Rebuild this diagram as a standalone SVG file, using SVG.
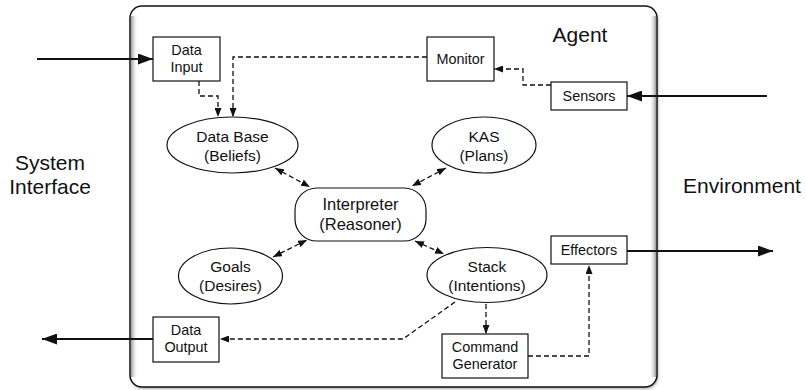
<svg xmlns="http://www.w3.org/2000/svg" width="806" height="390" viewBox="0 0 806 390">
<style>
  text { font-family: "Liberation Sans", Arial, Helvetica, sans-serif; fill: #111; text-anchor: middle; }
  .box { fill: #fff; stroke: #111; stroke-width: 1.2; }
  .node { fill: #fff; stroke: #111; stroke-width: 1.2; }
  .bt { font-size: 14.4px; }
  .et { font-size: 15.5px; }
  .it { font-size: 16.5px; }
  .big { font-size: 21px; }
  .solid { fill: none; stroke: #111; stroke-width: 2; }
  .dash { fill: none; stroke: #111; stroke-width: 1.3; stroke-dasharray: 5 3; }
</style>
<defs>
  <marker id="ah" viewBox="0 0 15 11" refX="15" refY="5.5" markerWidth="15" markerHeight="11" markerUnits="userSpaceOnUse" orient="auto">
    <path d="M0,0 L15,5.5 L0,11 z" fill="#111" stroke="none"/>
  </marker>
  <marker id="dh" viewBox="0 0 9 7" refX="9" refY="3.5" markerWidth="9" markerHeight="7" markerUnits="userSpaceOnUse" orient="auto">
    <path d="M0,0 L9,3.5 L0,7 z" fill="#111" stroke="none"/>
  </marker>
  <marker id="dt" viewBox="0 0 9 7" refX="0" refY="3.5" markerWidth="9" markerHeight="7" markerUnits="userSpaceOnUse" orient="auto">
    <path d="M9,0 L0,3.5 L9,7 z" fill="#111" stroke="none"/>
  </marker>
  <linearGradient id="gl" x1="0" y1="0" x2="1" y2="0">
    <stop offset="0" stop-color="#9a9a9a"/>
    <stop offset="1" stop-color="#ffffff" stop-opacity="0"/>
  </linearGradient>
  <linearGradient id="gr" x1="1" y1="0" x2="0" y2="0">
    <stop offset="0" stop-color="#9a9a9a"/>
    <stop offset="1" stop-color="#ffffff" stop-opacity="0"/>
  </linearGradient>
  <filter id="sh" x="-5%" y="-5%" width="110%" height="110%">
    <feGaussianBlur stdDeviation="1.5"/>
  </filter>
</defs>

<g id="agent">
  <rect x="131" y="8" width="527" height="381" rx="12" fill="#aaa" filter="url(#sh)"/>
  <rect x="130" y="6" width="527" height="381" rx="12" fill="#fff"/>
  <rect x="131" y="16" width="7" height="361" fill="url(#gl)"/>
  <rect x="649" y="16" width="7" height="361" fill="url(#gr)"/>
  <rect x="130" y="6" width="527" height="381" rx="12" fill="none" stroke="#111" stroke-width="1.5"/>
  <text class="big" x="580" y="42">Agent</text>
</g>

<g id="system-interface">
  <text class="big" x="50" y="170">System</text>
  <text class="big" x="50" y="194">Interface</text>
</g>
<g id="environment">
  <text class="big" x="742" y="193">Environment</text>
</g>

<g id="connectors">
  <path class="solid" d="M37,59 H153" marker-end="url(#ah)"/>
  <path class="solid" d="M767,96 H627" marker-end="url(#ah)"/>
  <path class="solid" d="M627,251 H773" marker-end="url(#ah)"/>
  <path class="solid" d="M153,339 H42" marker-end="url(#ah)"/>

  <path class="dash" d="M199,81 V96 H218 V117" marker-end="url(#dh)"/>
  <path class="dash" d="M427,57 H233 V117" marker-end="url(#dh)"/>
  <path class="dash" d="M551,85 H523 V69 H494" marker-end="url(#dh)"/>
  <path class="dash" d="M486,304 V334" marker-end="url(#dh)"/>
  <path class="dash" d="M528,356 H589 V265" marker-end="url(#dh)"/>
  <path class="dash" d="M455,302 L403,339 H220" marker-end="url(#dh)"/>

  <path class="dash" d="M275,168 L310,187" marker-start="url(#dt)" marker-end="url(#dh)"/>
  <path class="dash" d="M446,168 L412,186" marker-start="url(#dt)" marker-end="url(#dh)"/>
  <path class="dash" d="M273,257 L307,240" marker-start="url(#dt)" marker-end="url(#dh)"/>
  <path class="dash" d="M415,241 L444,254" marker-start="url(#dt)" marker-end="url(#dh)"/>
</g>

<g id="data-input">
  <rect class="box" x="153" y="37" width="67" height="44"/>
  <text class="bt" x="186.5" y="55">Data</text>
  <text class="bt" x="186.5" y="72">Input</text>
</g>
<g id="monitor">
  <rect class="box" x="427" y="37" width="67" height="44"/>
  <text class="bt" x="460.5" y="64">Monitor</text>
</g>
<g id="sensors">
  <rect class="box" x="551" y="82" width="76" height="28"/>
  <text class="bt" x="589" y="101">Sensors</text>
</g>
<g id="effectors">
  <rect class="box" x="551" y="236" width="76" height="28"/>
  <text class="bt" x="589" y="255">Effectors</text>
</g>
<g id="data-output">
  <rect class="box" x="153" y="317" width="66" height="45"/>
  <text class="bt" x="186" y="335">Data</text>
  <text class="bt" x="186" y="352">Output</text>
</g>
<g id="command-generator">
  <rect class="box" x="442" y="334" width="86" height="44"/>
  <text class="bt" x="485" y="352">Command</text>
  <text class="bt" x="485" y="369">Generator</text>
</g>

<g id="data-base">
  <ellipse class="node" cx="232.5" cy="145" rx="65.5" ry="28"/>
  <text class="et" x="232.5" y="142">Data Base</text>
  <text class="et" x="232.5" y="161">(Beliefs)</text>
</g>
<g id="kas">
  <ellipse class="node" cx="484" cy="145" rx="52" ry="28"/>
  <text class="et" x="484" y="142">KAS</text>
  <text class="et" x="484" y="161">(Plans)</text>
</g>
<g id="interpreter">
  <rect class="node" x="295" y="188" width="131" height="53" rx="22"/>
  <text class="it" x="360.5" y="210">Interpreter</text>
  <text class="it" x="360.5" y="230">(Reasoner)</text>
</g>
<g id="goals">
  <ellipse class="node" cx="230.5" cy="276" rx="52" ry="28"/>
  <text class="et" x="230.5" y="272">Goals</text>
  <text class="et" x="230.5" y="291">(Desires)</text>
</g>
<g id="stack">
  <ellipse class="node" cx="487" cy="275" rx="60" ry="27.5"/>
  <text class="et" x="487" y="272">Stack</text>
  <text class="et" x="487" y="291">(Intentions)</text>
</g>
</svg>
